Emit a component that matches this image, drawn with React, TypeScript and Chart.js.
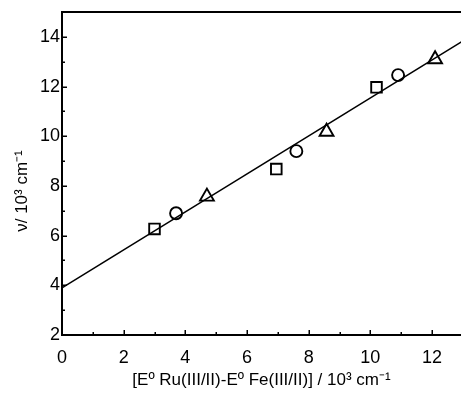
import React, { useEffect, useRef } from "react";
import { Chart, registerables } from "chart.js";

Chart.register(...registerables);

const squareX = [3.0, 6.95, 10.2];
const squareY = [6.27, 8.68, 11.97];
const circleX = [3.7, 7.6, 10.9];
const circleY = [6.9, 9.4, 12.46];
const triangleX = [4.7, 8.58, 12.1];
const triangleY = [7.57, 10.18, 13.1];
const fitX = [0, 13];
const fitY = [3.9, 13.83];
const xTicks = [0, 2, 4, 6, 8, 10, 12];
const yTicks = [2, 4, 6, 8, 10, 12, 14];
const xMinorTicks = [1, 3, 5, 7, 9, 11];
const yMinorTicks = [3, 5, 7, 9, 11, 13];
const xTitle = "[Eº Ru(III/II)-Eº Fe(III/II)] / 10³ cm⁻¹";
const yTitle = "ν/ 10³ cm⁻¹";

const FONT = "'Liberation Sans', Arial, sans-serif";

const pts = (xs: number[], ys: number[]) => xs.map((x, i) => ({ x, y: ys[i] }));

const framePlugin = {
  id: "frame",
  afterDraw(chart: any) {
    const { ctx, chartArea: a, scales } = chart;
    const x = scales.x;
    const y = scales.y;
    ctx.save();
    ctx.strokeStyle = "#000";
    ctx.lineWidth = 1.5;
    ctx.beginPath();
    const tickX = (v: number, len: number) => {
      const px = Math.round(x.getPixelForValue(v)) + 0.25;
      ctx.moveTo(px, a.bottom);
      ctx.lineTo(px, a.bottom - len);
    };
    const tickY = (v: number, len: number) => {
      const py = Math.round(y.getPixelForValue(v)) + 0.25;
      ctx.moveTo(a.left, py);
      ctx.lineTo(a.left + len, py);
    };
    xTicks.forEach((v) => tickX(v, 5));
    xMinorTicks.forEach((v) => tickX(v, 3));
    yTicks.forEach((v) => tickY(v, 5));
    yMinorTicks.forEach((v) => tickY(v, 3));
    ctx.stroke();
    ctx.lineWidth = 2;
    ctx.beginPath();
    ctx.moveTo(a.left - 1, a.top);
    ctx.lineTo(a.right, a.top);
    ctx.stroke();
    ctx.translate(22, 191);
    ctx.rotate(-Math.PI / 2);
    ctx.font = `17px ${FONT}`;
    ctx.fillStyle = "#000";
    ctx.textAlign = "center";
    ctx.textBaseline = "middle";
    ctx.fillText(yTitle, 0, 0);
    ctx.restore();
  },
};

export default function App() {
  const ref = useRef<HTMLCanvasElement | null>(null);
  useEffect(() => {
    if (!ref.current) return;
    const marker = {
      showLine: false,
      borderColor: "#000",
      backgroundColor: "rgba(0,0,0,0)",
      pointBorderWidth: 1.9,
      pointBackgroundColor: "rgba(0,0,0,0)",
      pointBorderColor: "#000",
    };
    const chart = new Chart(ref.current, {
      type: "scatter",
      data: {
        datasets: [
          {
            label: "fit",
            data: pts(fitX, fitY),
            showLine: true,
            borderColor: "#000",
            borderWidth: 1.5,
            pointRadius: 0,
          },
          { label: "squares", data: pts(squareX, squareY), pointStyle: "rect", pointRadius: 7.5, ...marker },
          { label: "circles", data: pts(circleX, circleY), pointStyle: "circle", pointRadius: 6, ...marker },
          { label: "triangles", data: pts(triangleX, triangleY), pointStyle: "triangle", pointRadius: 8, ...marker },
        ],
      } as any,
      options: {
        animation: false,
        responsive: false,
        layout: { autoPadding: false, padding: { top: 12, left: 0, right: 0, bottom: 0 } },
        plugins: { legend: { display: false }, tooltip: { enabled: false } },
        scales: {
          x: {
            type: "linear",
            min: 0,
            max: 12.94,
            grid: { display: false, drawTicks: false, tickLength: 0 },
            border: { display: true, color: "#000", width: 2 },
            afterBuildTicks: (s: any) => {
              s.ticks = xTicks.map((v) => ({ value: v }));
            },
            afterFit: (s: any) => {
              s.height = 65;
              s.paddingLeft = 0;
              s.paddingRight = 0;
            },
            ticks: {
              autoSkip: false,
              maxRotation: 0,
              padding: 12,
              color: "#000",
              font: { family: FONT, size: 18 },
            },
            title: {
              display: true,
              text: xTitle,
              color: "#000",
              font: { family: FONT, size: 17 },
              padding: { top: 0, bottom: 9 },
            },
          },
          y: {
            type: "linear",
            min: 2,
            max: 15,
            grid: { display: false, drawTicks: false, tickLength: 0 },
            border: { display: true, color: "#000", width: 2 },
            afterBuildTicks: (s: any) => {
              s.ticks = yTicks.map((v) => ({ value: v }));
            },
            afterFit: (s: any) => {
              s.width = 62;
              s.paddingTop = 0;
              s.paddingBottom = 0;
            },
            ticks: {
              autoSkip: false,
              padding: 2,
              color: "#000",
              font: { family: FONT, size: 18 },
            },
          },
        },
      } as any,
      plugins: [framePlugin],
    });
    return () => chart.destroy();
  }, []);
  return (
    <div style={{ position: "fixed", left: 0, top: 0, width: 461, height: 400, background: "#fff" }}>
      <canvas ref={ref} width={461} height={400} style={{ display: "block", width: 461, height: 400 }} />
    </div>
  );
}
